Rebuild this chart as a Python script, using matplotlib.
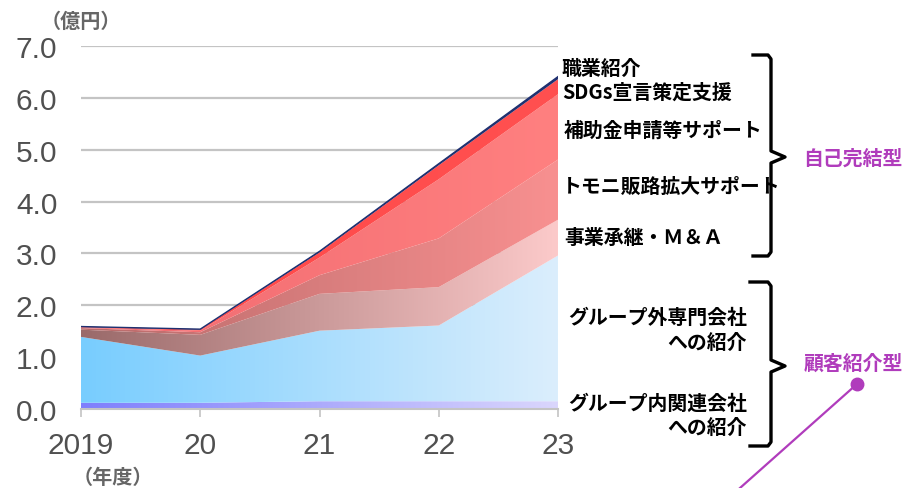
import numpy as np
import matplotlib
matplotlib.use("Agg")
import matplotlib.pyplot as plt
from matplotlib.colors import LinearSegmentedColormap
from matplotlib.lines import Line2D

plt.rcParams['font.family'] = ['Noto Sans CJK JP', 'DejaVu Sans']

# data (億円), stacked from bottom to top
years = [2019, 2020, 2021, 2022, 2023]
year_labels = ['2019', '20', '21', '22', '23']
group_internal = [0.12, 0.12, 0.15, 0.15, 0.15]   # グループ内関連会社への紹介
group_external = [1.27, 0.91, 1.36, 1.46, 2.81]   # グループ外専門会社への紹介
succession = [0.14, 0.40, 0.71, 0.74, 0.69]       # 事業承継・M&A
tomoni = [0.03, 0.05, 0.36, 0.94, 1.16]           # トモニ販路拡大サポート
subsidy = [0.01, 0.03, 0.34, 1.14, 1.26]          # 補助金申請等サポート
sdgs = [0.01, 0.02, 0.10, 0.27, 0.29]             # SDGs宣言策定支援
job = [0.01, 0.01, 0.02, 0.03, 0.05]              # 職業紹介

layers = [group_internal, group_external, succession, tomoni, subsidy, sdgs, job]
# left -> right gradient colours for each layer
grads = [
    ('#7f7ffd', '#dad6fc'),
    ('#78cdff', '#dbeefc'),
    ('#9a6a6a', '#fccaca'),
    ('#b86a6a', '#f89090'),
    ('#f06a70', '#ff8080'),
    ('#ff4848', '#ff5050'),
    ('#1f3070', '#1f3070'),
]

W, H = 904, 489
fig = plt.figure(figsize=(W / 100, H / 100), dpi=100)
ax = fig.add_axes([81 / W, 1 - 410 / H, (558 - 81) / W, (410 - 47) / H])

x = np.array(years, dtype=float)
bottom = np.zeros(len(x))
for vals, (c0, c1) in zip(layers, grads):
    top = bottom + np.array(vals)
    poly = ax.fill_between(x, bottom, top, color='none', lw=0, zorder=2)
    cmap = LinearSegmentedColormap.from_list('g', [c0, c1])
    img = ax.imshow(np.linspace(0, 1, 256).reshape(1, -1), cmap=cmap, aspect='auto',
                    extent=[x[0], x[-1], 0, 7], zorder=2, interpolation='bilinear')
    img.set_clip_path(poly.get_paths()[0], transform=ax.transData)
    bottom = top
ax.plot(x, bottom, color='#1f3070', lw=1.0, zorder=3)

ax.set_xlim(2019, 2023)
ax.set_ylim(0, 7)
ax.set_yticks(np.arange(0, 8))
ax.set_yticklabels([f'{v:.1f}' for v in range(8)])
ax.set_xticks(years)
ax.set_xticklabels(year_labels)
for s in ['top', 'right', 'left']:
    ax.spines[s].set_visible(False)
ax.spines['bottom'].set_color('#c4c4c4')
ax.spines['bottom'].set_linewidth(1.5)
ax.spines['bottom'].set_zorder(4)
ax.yaxis.grid(True, color='#c4c4c4', lw=1.6, zorder=1)
ax.set_axisbelow(True)
ax.tick_params(axis='y', length=0, pad=17)
ax.tick_params(axis='x', length=6, width=1.2, color='#c4c4c4', pad=10)
for lab in ax.get_xticklabels() + ax.get_yticklabels():
    lab.set_fontfamily('Liberation Sans')
    lab.set_fontsize(21.5)
    lab.set_color('#505050')


def px(xp, yp):
    return xp / W, 1 - yp / H


fig.text(*px(81, 21), '（億円）', ha='center', va='center', fontsize=14.5,
         fontweight='bold', color='#666666')
fig.text(*px(113, 477), '（年度）', ha='center', va='center', fontsize=14.5,
         fontweight='bold', color='#666666')

# right-hand labels
fs = 14.3
fig.text(*px(562, 68), '職業紹介', ha='left', va='center', fontsize=fs, fontweight='bold')
fig.text(*px(562, 92), 'SDGs宣言策定支援', ha='left', va='center', fontsize=fs, fontweight='bold')
fig.text(*px(564, 130), '補助金申請等サポート', ha='left', va='center', fontsize=fs, fontweight='bold')
fig.text(*px(562, 187), 'トモニ販路拡大サポート', ha='left', va='center', fontsize=fs, fontweight='bold')
fig.text(*px(564, 237), '事業承継・Ｍ＆Ａ', ha='left', va='center', fontsize=fs, fontweight='bold')
fig.text(*px(747, 317), 'グループ外専門会社', ha='right', va='center', fontsize=fs, fontweight='bold')
fig.text(*px(747, 342), 'への紹介', ha='right', va='center', fontsize=fs, fontweight='bold')
fig.text(*px(747, 403), 'グループ内関連会社', ha='right', va='center', fontsize=fs, fontweight='bold')
fig.text(*px(747, 427), 'への紹介', ha='right', va='center', fontsize=fs, fontweight='bold')


def brace(x0, x1, xt, y0, ym, y1):
    pts = [(x0, y0), (x1 - 3, y0), (x1, y0 + 4), (x1, ym - 6), (xt, ym),
           (x1, ym + 6), (x1, y1 - 4), (x1 - 3, y1), (x0, y1)]
    xs = [p[0] / W for p in pts]
    ys = [1 - p[1] / H for p in pts]
    fig.add_artist(Line2D(xs, ys, color='black', lw=2.4, solid_joinstyle='round',
                          transform=fig.transFigure))


brace(753, 771, 785, 56, 158, 257)
brace(750, 771, 785, 283, 367, 447)

purple = '#b03cbc'
fig.text(*px(853, 158), '自己完結型', ha='center', va='center', fontsize=fs,
         fontweight='bold', color=purple)
fig.text(*px(853, 363), '顧客紹介型', ha='center', va='center', fontsize=fs,
         fontweight='bold', color=purple)
fig.add_artist(Line2D([857 / W, 740 / W], [1 - 385 / H, 1 - 489 / H], color=purple,
                      lw=1.6, transform=fig.transFigure))
fig.add_artist(Line2D([857 / W], [1 - 385 / H], marker='o', markersize=9,
                      color=purple, transform=fig.transFigure))

fig.savefig('out.png', dpi=100)
